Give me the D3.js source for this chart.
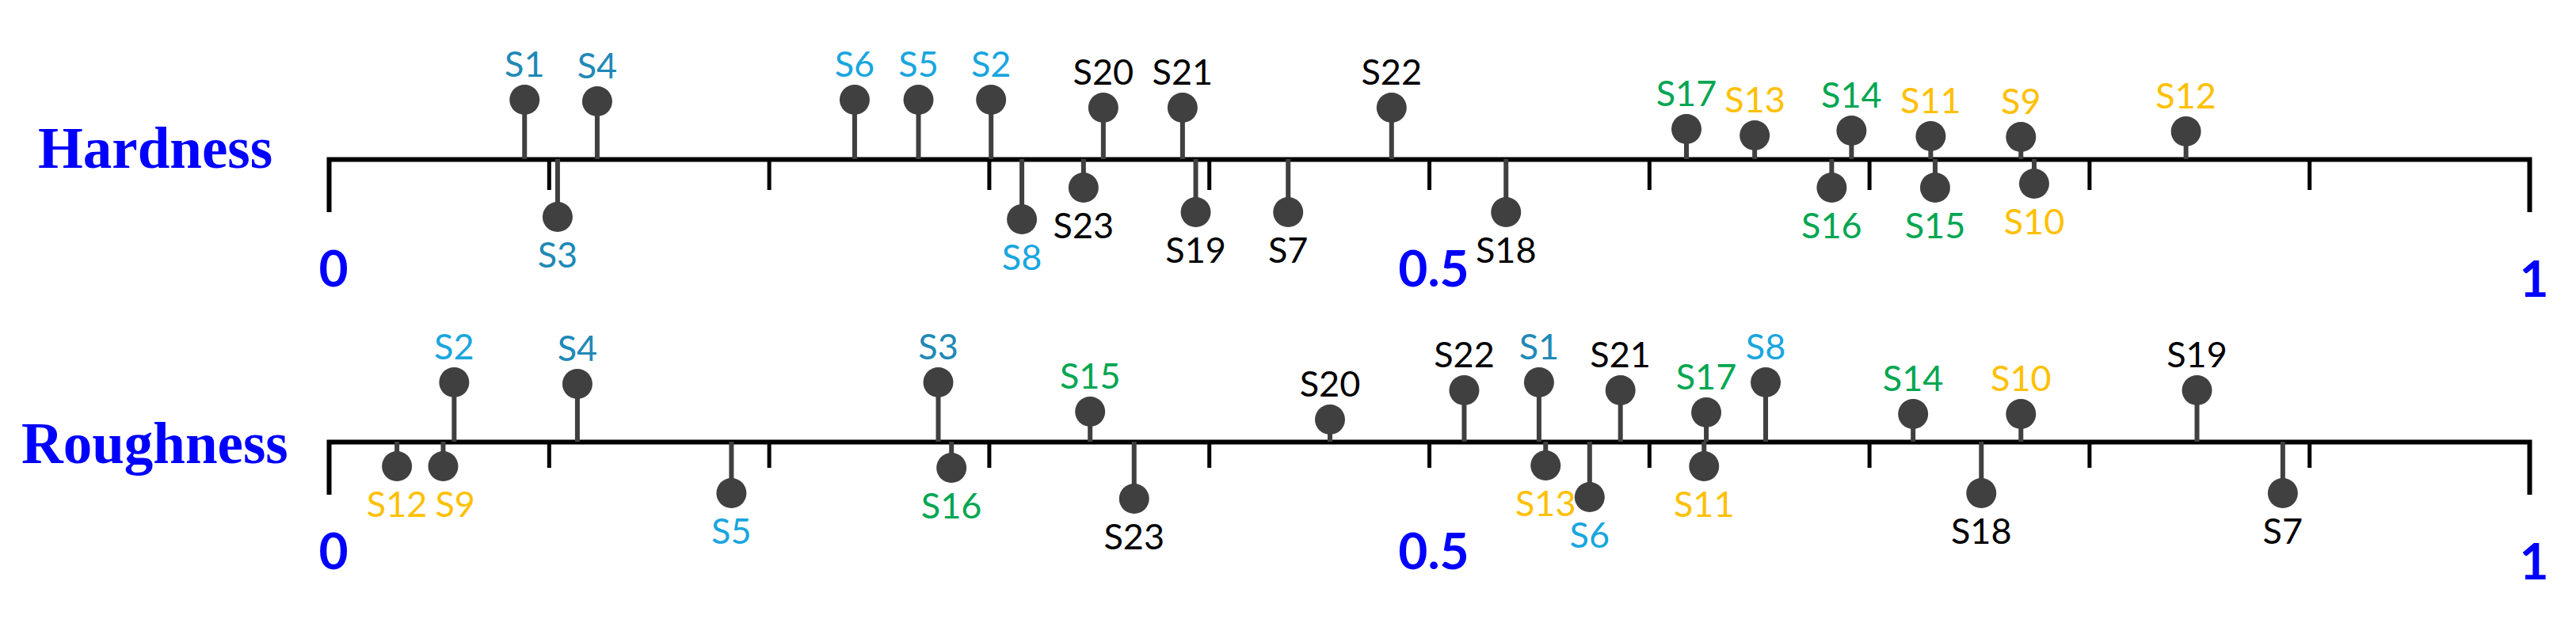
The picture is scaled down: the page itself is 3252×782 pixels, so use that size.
<!DOCTYPE html>
<html>
<head>
<meta charset="utf-8">
<script src="https://cdn.jsdelivr.net/npm/d3@7"></script>
<style>
  html, body { margin: 0; padding: 0; background: #ffffff; }
  svg { display: block; }
</style>
</head>
<body>
<svg id="chart" width="3252" height="782"></svg>
<script>
// ---------------- data ----------------
const samples = ["S1","S2","S3","S4","S5","S6","S7","S8","S9","S10","S11","S12",
                 "S13","S14","S15","S16","S17","S18","S19","S20","S21","S22","S23"];
const sampleGroups = ["teal","sky","teal","teal","sky","sky","black","sky",
                      "gold","gold","gold","gold","gold",
                      "green","green","green","green",
                      "black","black","black","black","black","black"];

// normalised hardness (0..1)
const hardnessValues = [0.089,0.301,0.104,0.122,0.268,0.239,0.436,0.315,0.769,0.775,0.728,0.844,
                        0.648,0.692,0.730,0.683,0.617,0.535,0.394,0.352,0.388,0.483,0.343];
// stem length / side (+ above, - below) for hardness
const hardnessStems  = [0.75,0.75,-0.73,0.73,0.75,0.75,-0.67,-0.76,0.28,-0.31,0.29,0.35,
                        0.30,0.36,-0.36,-0.36,0.38,-0.67,-0.67,0.65,0.65,0.65,-0.36];

// normalised roughness (0..1)
const roughnessValues = [0.550,0.057,0.277,0.113,0.183,0.573,0.888,0.653,0.052,0.769,0.625,0.031,
                         0.553,0.720,0.346,0.283,0.626,0.751,0.849,0.455,0.587,0.516,0.366];
const roughnessStems  = [0.75,0.75,0.75,0.73,-0.65,-0.70,-0.65,0.75,-0.31,0.35,-0.31,-0.31,
                         -0.30,0.35,0.38,-0.33,0.37,-0.65,0.65,0.28,0.65,0.65,-0.72];

const rowNames = ["Hardness","Roughness"];
const tickValues = [0,0.1,0.2,0.3,0.4,0.5,0.6,0.7,0.8,0.9,1];
const tickLabels = ["0","0.5","1"];
const tickLabelValues = [0,0.5,1];

// ---------------- styling ----------------
const groupColor = {
  teal:  "#2089B6",
  sky:   "#19A6DE",
  gold:  "#FFC000",
  green: "#00A651",
  black: "#000000"
};
const markColor = "#404040";
const ballR = 19;

const svg = d3.select("#chart");
svg.append("rect").attr("width",3252).attr("height",782).attr("fill","#fff");

const x = d3.scaleLinear().domain([0,1]).range([415,3193]);

const rows = [
  { name: rowNames[0], values: hardnessValues,  stems: hardnessStems,  axisY: 201, nameX: 48, nameDy: 11, tick: 39 },
  { name: rowNames[1], values: roughnessValues, stems: roughnessStems, axisY: 558, nameX: 27, nameDy: 27, tick: 33 }
];

rows.forEach(row => {
  const g = svg.append("g");
  const y = d3.scaleLinear().domain([-1,1]).range([row.axisY + 100, row.axisY - 100]);

  // row title
  g.append("text")
    .attr("x", row.nameX)
    .attr("y", row.axisY + row.nameDy)
    .attr("font-family", "'Liberation Serif', 'Times New Roman', serif")
    .attr("font-weight", "bold")
    .attr("font-size", 73)
    .attr("fill", "#0000FF")
    .text(row.name);

  // axis
  const axis = d3.axisBottom(x)
    .tickValues(tickValues.filter(v => v > 0 && v < 1))
    .tickSizeInner(row.tick)
    .tickSizeOuter(67)
    .tickFormat("");
  const ag = g.append("g").attr("transform", `translate(0,${row.axisY})`).call(axis);
  ag.select(".domain").attr("stroke", "#000").attr("stroke-width", 6).attr("fill", "none");
  ag.selectAll(".tick line").attr("stroke", "#000").attr("stroke-width", 5);

  // tick labels
  g.selectAll("text.tl")
    .data(tickLabelValues)
    .join("text")
    .attr("class", "tl")
    .attr("x", d => x(d) + 6)
    .attr("y", d => row.axisY + 161 + (d === 1 ? 13 : 0))
    .attr("text-anchor", "middle")
    .attr("font-family", "Lato, 'Open Sans', sans-serif")
    .attr("font-weight", "bold")
    .attr("font-size", 64)
    .attr("fill", "#0000FF")
    .text((d,i) => tickLabels[i]);

  const data = samples.map((s,i) => ({
    name: s, value: row.values[i], stem: row.stems[i], color: groupColor[sampleGroups[i]]
  }));

  // stems
  g.selectAll("line.stem")
    .data(data)
    .join("line")
    .attr("class","stem")
    .attr("x1", d => x(d.value)).attr("x2", d => x(d.value))
    .attr("y1", row.axisY).attr("y2", d => y(d.stem))
    .attr("stroke", markColor).attr("stroke-width", 6);

  // balls
  g.selectAll("circle.ball")
    .data(data)
    .join("circle")
    .attr("class","ball")
    .attr("cx", d => x(d.value)).attr("cy", d => y(d.stem))
    .attr("r", ballR).attr("fill", markColor);

  // labels
  const labels = g.selectAll("text.lab")
    .data(data)
    .join("text")
    .attr("class","lab")
    .attr("x", d => x(d.value))
    .attr("y", d => d.stem > 0 ? y(d.stem) - ballR - 10 : y(d.stem) + ballR + 45)
    .attr("text-anchor","middle")
    .attr("font-family", "Lato, 'Open Sans', sans-serif")
    .attr("font-size", 45)
    .attr("fill", d => d.color)
    .text(d => d.name);

  // simple de-overlap: push labels right when they collide on same side/height
  const boxes = [];
  labels.each(function(d){
    const w = this.getComputedTextLength();
    boxes.push({node: this, d, w, cx: +this.getAttribute("x"), yb: +this.getAttribute("y")});
  });
  [true,false].forEach(up => {
    const side = boxes.filter(b => (b.d.stem > 0) === up).sort((a,b) => a.cx - b.cx);
    for (let i = 1; i < side.length; i++) {
      for (let j = 0; j < i; j++) {
        const a = side[j], b = side[i];
        if (Math.abs(a.yb - b.yb) < 30) {
          const minC = a.cx + a.w/2 + 10 + b.w/2;
          if (b.cx < minC) b.cx = minC;
        }
      }
      d3.select(side[i].node).attr("x", side[i].cx);
    }
  });
});
</script>
</body>
</html>
